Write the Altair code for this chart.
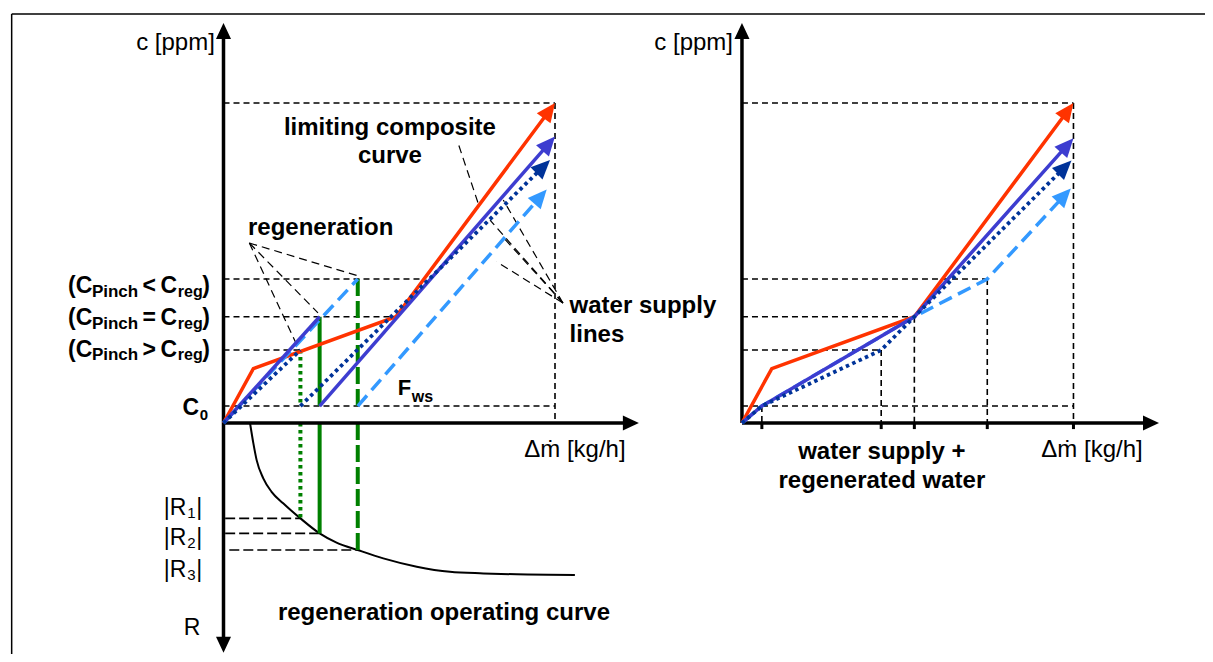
import math
import altair as alt
import pandas as pd

# ---------------- chart values (Δm units 0..100, c units 0..100) ----------------
C0 = 5.3
C_GT = 22.8     # C_Pinch > C_reg
C_EQ = 33.2     # C_Pinch = C_reg
C_LT = 45.0     # C_Pinch < C_reg
C_MAX = 100
DM_MAX = 100

# limiting composite curve (both panels)
LCC_X = [0, 9, 52, 100]
LCC_Y = [0, 17, 33.2, 100]

# left panel: water supply lines, part before regeneration (A) and after (B)
L_SOLID_A_X = [0, 29.0]
L_SOLID_A_Y = [0, 33.2]
L_SOLID_B_X = [29.0, 100]
L_SOLID_B_Y = [5.3, 89.5]
L_DOT_A_X = [0, 23.2]
L_DOT_A_Y = [0, 22.8]
L_DOT_B_X = [23.2, 98.5]
L_DOT_B_Y = [5.3, 82.2]
L_DASH_A_X = [0, 40.5]
L_DASH_A_Y = [0, 45.0]
L_DASH_B_X = [40.5, 97.5]
L_DASH_B_Y = [5.3, 73.0]

# regeneration flows and regeneration operating curve
REG_X = [23.2, 29.0, 40.5]          # dotted, solid, dashed
REG_TOP = [22.8, 33.2, 45.0]
REG_R = [-29.8, -34.5, -39.7]       # |R1|, |R2|, |R3|
ROC_X = [8, 9, 10, 12, 14.5, 18, 23.2, 29, 34.1, 40.5, 48.2, 58.3, 68.3, 78.4, 88.4, 106]
ROC_Y = [0, -6.3, -11.6, -17.3, -21.5, -25.1, -29.8, -34.5, -37.4, -39.7, -42.3,
         -44.9, -46.5, -47.0, -47.3, -47.5]

# right panel: water supply + regenerated water
R_SOLID_X = [0, 6, 52, 100]
R_SOLID_Y = [0, 5.3, 33.2, 89]
R_DOT_X = [0, 6, 42, 52, 99.4]
R_DOT_Y = [0, 5.3, 22.8, 33.2, 82]
R_DASH_X = [0, 6, 52, 74, 99.2]
R_DASH_Y = [0, 5.3, 33.2, 45, 73.3]
R_TICKS = [6, 42, 52, 74, 100]

# ---------------- layout / scales ----------------
FONT = "Liberation Sans, Arial, Helvetica, sans-serif"
W, H = 1197, 646
PX_X, PX_Y = 3.315, 3.2
OX, OY = 215.5, 415.0
XMIN, XMAX = -OX / PX_X, (W - OX) / PX_X
YMIN, YMAX = -(H - OY) / PX_Y, OY / PX_Y
RX = 156.4   # offset of right panel

RED = "#FF3300"
BLUE = "#3D3DD0"
NAVY = "#003399"
LIGHT = "#3399FF"
GREEN = "#008000"

xs = alt.Scale(domain=[XMIN, XMAX], nice=False, zero=False)
ys = alt.Scale(domain=[YMIN, YMAX], nice=False, zero=False)


def enc_xy():
    return dict(x=alt.X("x:Q", scale=xs, axis=None), y=alt.Y("y:Q", scale=ys, axis=None))


def rules(segs, **mk):
    df = pd.DataFrame(segs, columns=["x", "y", "x2", "y2"])
    return alt.Chart(df).mark_rule(**mk).encode(
        **enc_xy(), x2=alt.X2("x2:Q"), y2=alt.Y2("y2:Q"))


def trim(px, py, cut):
    px, py = list(px), list(py)
    dx = (px[-1] - px[-2]) * PX_X
    dy = (py[-1] - py[-2]) * PX_Y
    L = math.hypot(dx, dy)
    px[-1] -= dx / L * cut / PX_X
    py[-1] -= dy / L * cut / PX_Y
    return px, py


def angle(px, py):
    dx = (px[-1] - px[-2]) * PX_X
    dy = (py[-1] - py[-2]) * PX_Y
    return math.degrees(math.atan2(dx, dy)) % 360


def polyline(series, **mk):
    rows = []
    for sid, (px, py, off) in enumerate(series):
        for k, (a, b) in enumerate(zip(px, py)):
            rows.append({"x": a + off, "y": b, "s": sid, "o": k})
    return alt.Chart(pd.DataFrame(rows)).mark_line(**mk).encode(
        **enc_xy(), detail="s:N", order="o:Q")


layers = []

# frame
FX, FY = -63.9, 127.8
layers.append(rules([[FX, FY, XMAX, FY], [FX, FY, FX, YMIN]], color="black", strokeWidth=1.5))

# dashed guide lines
guides = []
for off in (0, RX):
    guides += [[off, C_MAX, off + DM_MAX, C_MAX], [off + DM_MAX, C_MAX, off + DM_MAX, 0],
               [off, C0, off + DM_MAX, C0]]
guides += [[0, C_LT, 60.6, C_LT], [0, C_EQ, 52, C_EQ], [0, C_GT, REG_X[0], C_GT]]
guides += [[RX, C_LT, RX + 74, C_LT], [RX, C_EQ, RX + 52, C_EQ], [RX, C_GT, RX + 42, C_GT],
           [RX + 74, C_LT, RX + 74, 0], [RX + 52, C_EQ, RX + 52, 0], [RX + 42, C_GT, RX + 42, 0],
           [RX + 6, C0, RX + 6, 0]]
layers.append(rules(guides, color="black", strokeWidth=1.6, strokeDash=[6, 4]))

# R level lines
layers.append(rules([[0.5, REG_R[0], REG_X[0], REG_R[0]], [0.5, REG_R[1], REG_X[1], REG_R[1]],
                     [1.75, REG_R[2], REG_X[2], REG_R[2]]],
                    color="black", strokeWidth=1.6, strokeDash=[10, 4]))

# annotation pointers
pointers = [[71, 86.7, 77.1, 67.8],
            [7.8, 56.25, 40.5, 46], [7.8, 56.25, 28.5, 34.4], [7.8, 56.25, 23.1, 22.2],
            [102.4, 37.5, 84.4, 69.7], [102.4, 37.5, 80.4, 63.4],
            [102.4, 37.5, 84.3, 58.1], [102.4, 37.5, 82.4, 50.4]]
layers.append(rules(pointers, color="black", strokeWidth=1.2, strokeDash=[8, 5]))

# regeneration operating curve
layers.append(polyline([(ROC_X, ROC_Y, 0)], color="black", strokeWidth=2, interpolate="monotone"))

# green regeneration lines
green_styles = [dict(strokeDash=[3.5, 3.5]), dict(), dict(strokeDash=[17, 5])]
for gx, gt, gr, st in zip(REG_X, REG_TOP, REG_R, green_styles):
    layers.append(rules([[gx, gt, gx, C0], [gx, 0, gx, gr]], color=GREEN, strokeWidth=4, **st))

# axes
layers.append(rules([[0, -71.8 + 2.6, 0, 125 - 2.6], [0, 0, 125.3 - 2.5, 0],
                     [RX, 0, RX, 125 - 2.6], [RX, 0, RX + 125.8 - 2.5, 0]],
                    color="black", strokeWidth=3.5))
layers.append(rules([[RX + t, 0, RX + t, -1.9] for t in R_TICKS], color="black", strokeWidth=3))
ax_heads = pd.DataFrame([
    {"x": 0, "y": 125, "ang": 0}, {"x": 0, "y": -71.8, "ang": 180},
    {"x": 125.3, "y": 0, "ang": 90}, {"x": RX, "y": 125, "ang": 0},
    {"x": RX + 125.8, "y": 0, "ang": 90}])
HEAD = "M0,0 L0.47,1 L-0.47,1 Z"
layers.append(alt.Chart(ax_heads).mark_point(shape=HEAD, size=1024, filled=True, opacity=1,
                                             color="black", strokeWidth=0).encode(
    **enc_xy(), angle=alt.Angle("ang:Q", scale=None)))

# coloured lines (with arrowheads)
CUT = 9
arrow_rows = []


def arrowed(px, py, off, col):
    arrow_rows.append({"x": px[-1] + off, "y": py[-1], "ang": angle(px, py), "col": col})
    tx, ty = trim(px, py, CUT)
    return (tx, ty, off)


layers.append(polyline([arrowed(LCC_X, LCC_Y, 0, RED), arrowed(LCC_X, LCC_Y, RX, RED)],
                       color=RED, strokeWidth=3.5))
layers.append(polyline([(L_DASH_A_X, L_DASH_A_Y, 0), arrowed(L_DASH_B_X, L_DASH_B_Y, 0, LIGHT),
                        arrowed(R_DASH_X, R_DASH_Y, RX, LIGHT)],
                       color=LIGHT, strokeWidth=3.5, strokeDash=[14, 7]))
layers.append(polyline([(L_SOLID_A_X, L_SOLID_A_Y, 0), arrowed(L_SOLID_B_X, L_SOLID_B_Y, 0, BLUE),
                        arrowed(R_SOLID_X, R_SOLID_Y, RX, BLUE)],
                       color=BLUE, strokeWidth=3.5))
layers.append(polyline([(L_DOT_A_X, L_DOT_A_Y, 0), arrowed(L_DOT_B_X, L_DOT_B_Y, 0, NAVY),
                        arrowed(R_DOT_X, R_DOT_Y, RX, NAVY)],
                       color=NAVY, strokeWidth=3.8, strokeDash=[3.5, 3.5]))
ARROW = "M0,0 L0.45,1 L-0.45,1 Z"
layers.append(alt.Chart(pd.DataFrame(arrow_rows)).mark_point(
    shape=ARROW, size=1444, filled=True, opacity=1, strokeWidth=0).encode(
    **enc_xy(), angle=alt.Angle("ang:Q", scale=None), color=alt.Color("col:N", scale=None)))


# ---------------- text ----------------
def texts(rows, weight, align):
    df = pd.DataFrame(rows, columns=["x", "y", "t", "fs"])
    return alt.Chart(df).mark_text(font=FONT, fontWeight=weight, align=align,
                                   baseline="alphabetic", color="black").encode(
        **enc_xy(), text="t:N", size=alt.Size("fs:Q", scale=None))


bold_center = [
    [50.2, 90, "limiting composite", 24], [50.2, 81.4, "curve", 24],
    [29.3, 58.75, "regeneration", 24],
    [66.5, -61.6, "regeneration operating curve", 24],
    [RX + 42.2, -11.25, "water supply +", 24], [RX + 42.2, -20.2, "regenerated water", 24],
]
bold_left = [[104.4, 34.4, "water supply", 24], [104.4, 25.4, "lines", 24]]
for yb, sym in zip([40.5, 30.6, 20.7], ["<", "=", ">"]):
    bold_left += [[-46.9, yb, "(C", 23], [-39.7, yb - 1.1, "Pinch", 17], [-24.4, yb, sym, 23],
                  [-19.0, yb, "C", 23], [-13.8, yb - 1.1, "reg", 16], [-6.4, yb, ")", 23]]
bold_left += [[-12.4, 2.5, "C", 23], [-7.2, 0.9, "0", 15],
              [52.6, 8.75, "F", 22], [56.8, 6.5, "ws", 16]]
normal_right = [[-2.6, 116.6, "c [ppm]", 24], [RX - 2.7, 116.6, "c [ppm]", 24]]
normal_center = [[106, -10.6, "\u0394\u1e41 [kg/h]", 24], [RX + 105.6, -10.6, "\u0394\u1e41 [kg/h]", 24]]
normal_left = []
for yb, n in zip([-28.75, -38.1, -48.0], ["1", "2", "3"]):
    normal_left += [[-18.0, yb, "|R", 23], [-10.9, yb - 1.0, n, 15], [-8.2, yb, "|", 23]]
normal_left += [[-12.0, -66.25, "R", 23]]

layers += [texts(bold_center, "bold", "center"), texts(bold_left, "bold", "left"),
           texts(normal_right, "normal", "right"), texts(normal_center, "normal", "center"),
           texts(normal_left, "normal", "left")]

chart = alt.layer(*layers).properties(
    width=W, height=H, padding=0, autosize="none", background="white"
).configure_view(stroke=None)

chart.save("out.html", embed_options={"renderer": "svg", "actions": False})
